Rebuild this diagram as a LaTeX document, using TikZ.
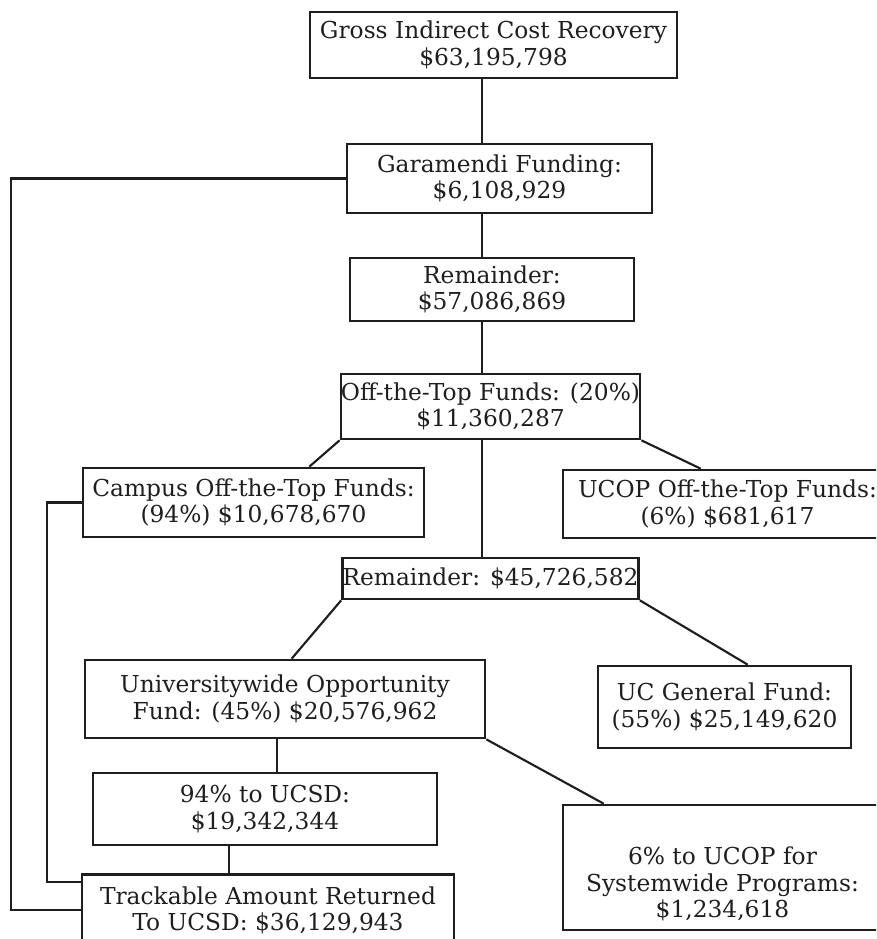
\documentclass[tikz,border=0pt]{standalone}
\usepackage{fontspec}
\setmainfont{DejaVu Serif}
\usetikzlibrary{calc}
\definecolor{ink}{HTML}{1E1E1E}
\tikzset{
  fundbox/.style={draw=ink,line width=2pt,align=center,inner sep=0pt,
    font=\fontsize{17.5}{20}\selectfont,text=ink},
  wh/.style 2 args={minimum width=#1*0.75pt,minimum height=#2*0.75pt},
  link/.style={draw=ink,line width=1.6pt}
}

\begin{document}
\begin{tikzpicture}[x=0.75pt,y=-0.75pt]
  \useasboundingbox (0,0) rectangle (876,939);
  \clip (0,0) rectangle (876,939);
  % boxes, top to bottom
  \node[fundbox,wh={367}{66}] (gross) at (493.5,45) {Gross Indirect Cost Recovery\\\$63,195,798};
  \node[fundbox,wh={305}{69}] (gar) at (499.5,178.5) {Garamendi Funding:\\\$6,108,929};
  \node[fundbox,wh={284}{63}] (rem) at (492,289.5) {Remainder:\\\$57,086,869};
  \node[fundbox,wh={299}{65}] (otf) at (490.5,406.5) {Off-the-Top Funds: (20\%)\\\$11,360,287};
  \node[fundbox,wh={341}{69}] (camp) at (253.5,502.5) {Campus Off-the-Top Funds:\\(94\%) \$10,678,670};
  \node[fundbox,wh={329}{68}] (ucop) at (727.5,504) {UCOP Off-the-Top Funds:\\(6\%) \$681,617};
  \node[fundbox,wh={275}{41}] (rest) at (490.5,578.5) {Remainder: \$45,726,582};
  \node[fundbox,wh={400}{78}] (uwof) at (285,699) {Universitywide Opportunity\\Fund: (45\%) \$20,576,962};
  \node[fundbox,wh={253}{82}] (ucgf) at (724.5,707) {UC General Fund:\\(55\%) \$25,149,620};
  \node[fundbox,wh={344}{72}] (ucsd) at (265,809) {94\% to UCSD:\\\$19,342,344};
  \node[fundbox,wh={319}{125}] (sysw) at (722.5,867.5) {\rule{0pt}{38pt}6\% to UCOP for\\Systemwide Programs:\\\$1,234,618};
  \node[fundbox,minimum width=372*0.75pt,anchor=north,inner ysep=9pt,text depth=60pt] (track) at (268,873) {Trackable Amount Returned\\To UCSD: \$36,129,943};
  % main spine
  \coordinate (mainx) at (482,0);
  \draw[link] (gross.south -| mainx) -- (gar.north -| mainx);
  \draw[link] (gar.south -| mainx) -- (rem.north -| mainx);
  \draw[link] (rem.south -| mainx) -- (otf.north -| mainx);
  \draw[link] (otf.south -| mainx) -- (rest.north -| mainx);
  % splits
  \draw[link] (otf.south west) -- ($(camp.north east)+(-116,0)$);
  \draw[link] (otf.south east) -- ($(ucop.north west)+(139,0)$);
  \draw[link] (rest.south west) -- ($(uwof.north west)+(208,0)$);
  \draw[link] (rest.south east) -- ($(ucgf.north west)+(151,0)$);
  \draw[link] (uwof.south east) -- ($(sysw.north west)+(42,0)$);
  \coordinate (uwx) at (277,0);
  \draw[link] (uwof.south -| uwx) -- (ucsd.north -| uwx);
  \coordinate (ucx) at (229,0);
  \draw[link] (ucsd.south -| ucx) -- (track.north -| ucx);
  % returns to UCSD
  \draw[link] (gar.west) -- ++(-335,0) |- ($(track.north west)+(0,37)$);
  \draw[link] (camp.west) -- ++(-35,0) |- ($(track.north west)+(0,9)$);
\end{tikzpicture}
\end{document}
